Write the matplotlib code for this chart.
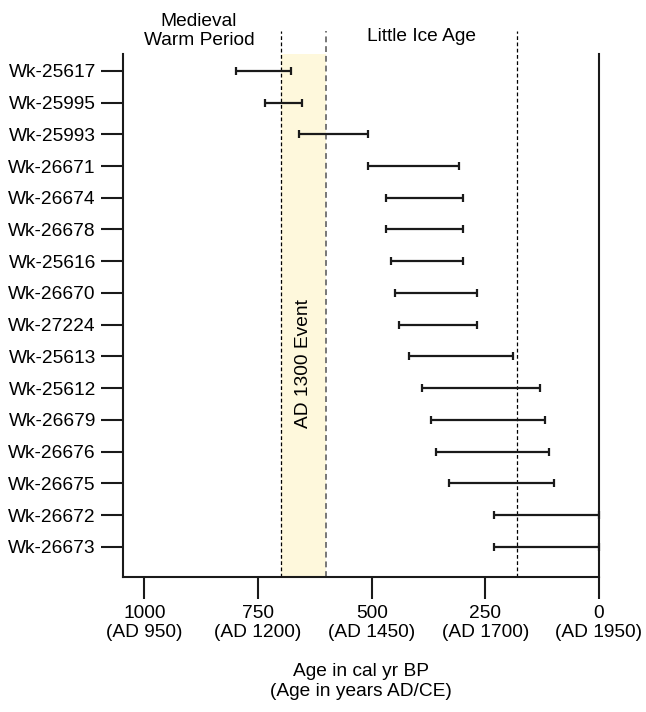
import matplotlib
matplotlib.use("Agg")
import matplotlib.pyplot as plt
import numpy as np

plt.rcParams['font.family'] = ['Liberation Sans', 'DejaVu Sans']

samples = ["Wk-25617", "Wk-25995", "Wk-25993", "Wk-26671", "Wk-26674", "Wk-26678",
           "Wk-25616", "Wk-26670", "Wk-27224", "Wk-25613", "Wk-25612", "Wk-26679",
           "Wk-26676", "Wk-26675", "Wk-26672", "Wk-26673"]
older_bp = [799, 734, 659, 509, 469, 469, 458, 449, 439, 419, 389, 369, 359, 329, 230, 230]
younger_bp = [678, 654, 509, 309, 299, 299, 299, 269, 269, 189, 129, 119, 109, 99, 0, 0]

xticks = [1000, 750, 500, 250, 0]
xticklabels = ["1000\n(AD 950)", "750\n(AD 1200)", "500\n(AD 1450)", "250\n(AD 1700)", "0\n(AD 1950)"]

event_start, event_end = 700, 600   # AD 1300 event band (cal yr BP)
lia_end = 180

W, H, DPI = 646, 712, 100
fig = plt.figure(figsize=(W / DPI, H / DPI), dpi=DPI)
ax = fig.add_axes([123 / W, (H - 577) / H, (599 - 123) / W, (577 - 54) / H])

FS = 13.8
ink = '#1a1a1a'

y = np.arange(len(samples))
older = np.array(older_bp, dtype=float)
younger = np.array(younger_bp, dtype=float)
mid = (older + younger) / 2
half = (older - younger) / 2

ax.axvspan(event_end, event_start, color='#fef8dc', zorder=0, lw=0)
ext = 1 + 23 / 523
ax.plot([event_start, event_start], [0, ext], transform=ax.get_xaxis_transform(),
        color='black', lw=0.9, ls=(0, (3, 2)), clip_on=False, zorder=1)
ax.plot([event_end, event_end], [0, ext], transform=ax.get_xaxis_transform(),
        color='#777777', lw=1.4, ls=(0, (3, 2)), clip_on=False, zorder=1)
ax.plot([lia_end, lia_end], [0, ext], transform=ax.get_xaxis_transform(),
        color='black', lw=0.9, ls=(0, (3, 2)), clip_on=False, zorder=1)

ax.errorbar(mid, y, xerr=half, fmt='none', ecolor=ink, elinewidth=1.6,
            capsize=2.7, capthick=1.6, zorder=3, clip_on=False)

ax.set_xlim(1047.3, 0)
ax.set_ylim(15.95, -0.53)
ax.set_yticks(y)
ax.set_yticklabels(samples, fontsize=FS)
ax.set_xticks(xticks)
ax.set_xticklabels(xticklabels, fontsize=FS, linespacing=1.1)
for lab in ax.get_xticklabels():
    lab.set_multialignment('center')

ax.spines['top'].set_visible(False)
for s in ['left', 'bottom', 'right']:
    ax.spines[s].set_linewidth(1.5)
    ax.spines[s].set_color(ink)
ax.tick_params(axis='both', length=16, width=1.5, color=ink, labelcolor='black')
ax.tick_params(axis='y', pad=3.5)
ax.tick_params(axis='x', pad=4.5)

ax.set_xlabel("Age in cal yr BP\n(Age in years AD/CE)", fontsize=FS, labelpad=16, linespacing=1.2)

ax.text(880, 1 + 5 / 523, "Medieval\nWarm Period", transform=ax.get_xaxis_transform(),
        ha='center', va='bottom', fontsize=FS, linespacing=1.15)
ax.text(390, 1 + 9 / 523, "Little Ice Age", transform=ax.get_xaxis_transform(),
        ha='center', va='bottom', fontsize=FS)
ax.text(650, 9.22, "AD 1300 Event", rotation=90, ha='center', va='center', fontsize=FS)

fig.savefig("out.png", dpi=DPI)
